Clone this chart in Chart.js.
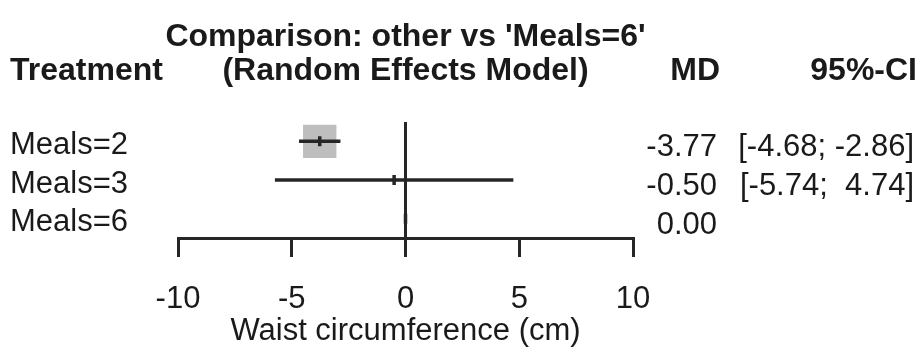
<!DOCTYPE html>
<html>
<head>
<meta charset="utf-8">
<script src="https://cdn.jsdelivr.net/npm/chart.js@4/dist/chart.umd.min.js"></script>
<style>
  html, body { margin: 0; padding: 0; background: #fff; }
  canvas { display: block; }
</style>
</head>
<body>
<canvas id="forest" width="923" height="351"></canvas>
<script>
// Network meta-analysis results, comparison against 'Meals=6'
const treatments = ['Meals=2', 'Meals=3', 'Meals=6'];
const md         = [-3.77, -0.50, 0.00];
const ciLower    = [-4.68, -5.74, 0.00];
const ciUpper    = [-2.86,  4.74, 0.00];
const isReference = [false, false, true];
const xTickValues = [-10, -5, 0, 5, 10];

const titleLines = ["Comparison: other vs 'Meals=6'", '(Random Effects Model)'];
const headTreatment = 'Treatment';
const headMD = 'MD';
const headCI = '95%-CI';
const xAxisTitle = 'Waist circumference (cm)';

const INK = '#1a1a1a';
const LINE = '#262626';
const FONT = '"Liberation Sans", Arial, Helvetica, sans-serif';

const fmt = v => (v < 0 ? v.toFixed(2) : ' ' + v.toFixed(2));

// CI segments: one line dataset per treatment
const ciDatasets = treatments.map((t, i) => ({
  type: 'line',
  data: [{ x: ciLower[i], y: t }, { x: ciUpper[i], y: t }],
  borderColor: LINE,
  borderWidth: 3.5,
  pointRadius: 0,
  fill: false,
  order: 2
}));

// Text columns and headings
const forestText = {
  id: 'forestText',
  afterDraw(chart) {
    const ctx = chart.ctx;
    const xs = chart.scales.x;
    const ys = chart.scales.y;
    const cx = xs.getPixelForValue(0);
    ctx.save();
    ctx.fillStyle = INK;
    ctx.textBaseline = 'alphabetic';

    ctx.font = 'bold 32px ' + FONT;
    ctx.textAlign = 'center';
    ctx.fillText(titleLines[0], cx, 46);
    ctx.fillText(titleLines[1], cx, 80);
    ctx.textAlign = 'left';
    ctx.fillText(headTreatment, 10, 80);
    ctx.textAlign = 'right';
    ctx.fillText(headMD, 720, 80);
    ctx.fillText(headCI, 917, 80);

    ctx.font = '31px ' + FONT;
    treatments.forEach((t, i) => {
      const y = ys.getPixelForValue(i) + 15;
      ctx.textAlign = 'right';
      ctx.fillText(md[i].toFixed(2), 717, y);
      if (!isReference[i]) {
        ctx.fillText('[' + fmt(ciLower[i]) + '; ' + fmt(ciUpper[i]) + ']', 914, y);
      }
    });
    ctx.restore();
  }
};

new Chart(document.getElementById('forest'), {
  type: 'scatter',
  data: {
    labels: treatments,
    datasets: [
      {
        // point estimates
        data: treatments.map((t, i) => ({ x: md[i], y: t })),
        pointStyle: 'line',
        rotation: 90,
        pointRadius: 5,
        borderColor: LINE,
        borderWidth: 3.5,
        backgroundColor: LINE,
        order: 1
      },
      ...ciDatasets,
      {
        // weight squares
        data: treatments.map((t, i) => ({ x: md[i], y: t })),
        pointStyle: 'rect',
        pointRadius: [23.6, 0, 0],
        backgroundColor: '#bebebe',
        borderWidth: 0,
        order: 3
      }
    ]
  },
  options: {
    responsive: false,
    animation: false,
    events: [],
    layout: { padding: { left: 10, right: 290, top: 122, bottom: 0 } },
    plugins: { legend: { display: false }, tooltip: { enabled: false }, title: { display: false } },
    scales: {
      x: {
        type: 'linear',
        position: 'bottom',
        min: -10,
        max: 10,
        afterBuildTicks: s => { s.ticks = xTickValues.map(v => ({ value: v })); },
        afterFit: s => { s.height = 113; },
        border: { display: true, color: LINE, width: 3 },
        grid: {
          drawOnChartArea: true,
          drawTicks: true,
          tickLength: 19,
          tickWidth: 3,
          tickColor: LINE,
          lineWidth: 3,
          color: c => (c.tick && c.tick.value === 0 ? LINE : 'rgba(0,0,0,0)')
        },
        ticks: {
          padding: 24,
          color: INK,
          font: { family: FONT, size: 31 },
          callback: v => String(v)
        },
        title: {
          display: true,
          text: xAxisTitle,
          color: INK,
          font: { family: FONT, size: 31 },
          padding: { top: 0, bottom: 1 }
        }
      },
      y: {
        type: 'category',
        labels: treatments,
        offset: true,
        position: 'left',
        afterFit: s => { s.width = 168; },
        border: { display: false },
        grid: { display: false, drawTicks: false },
        ticks: {
          autoSkip: false,
          crossAlign: 'far',
          labelOffset: 4,
          padding: 0,
          color: INK,
          font: { family: FONT, size: 31 }
        }
      }
    }
  },
  plugins: [forestText]
});
</script>
</body>
</html>
